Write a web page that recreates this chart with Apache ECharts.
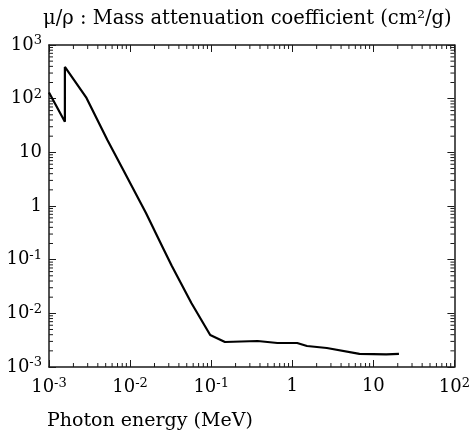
<!DOCTYPE html>
<html>
<head>
<meta charset="utf-8">
<script src="https://cdn.jsdelivr.net/npm/echarts@6/dist/echarts.min.js"></script>
<style>html,body{margin:0;padding:0;background:#fff}#c{width:473px;height:437px}</style>
</head>
<body>
<div id="c"></div>
<script>
// Photon energy (MeV)
const energy = [0.001, 0.00157, 0.00157, 0.0029, 0.00525, 0.008, 0.0157, 0.026, 0.0325, 0.057, 0.0973, 0.148, 0.374, 0.656, 1.15, 1.52, 2.67, 6.74, 14.4, 20.7];
// Mass attenuation coefficient (cm2/g)
const mu = [130, 37, 390, 103, 17, 5.1, 0.74, 0.155, 0.078, 0.0156, 0.00395, 0.00292, 0.00305, 0.0028, 0.0028, 0.00246, 0.00226, 0.00175, 0.00172, 0.00175];
// Tick labels
const xTickLabels = {'-3': '10{s|-3}', '-2': '10{s|-2}', '-1': '10{s|-1}', '0': '1', '1': '10', '2': '10{s|2}'};
const yTickLabels = {'-3': '10{s|-3}', '-2': '10{s|-2}', '-1': '10{s|-1}', '0': '1', '1': '10', '2': '10{s|2}', '3': '10{s|3}'};
const titleText = 'μ/ρ : Mass attenuation coefficient (cm²/g)';
const xName = 'Photon energy (MeV)';

const FONT = 'DejaVu Serif';
const xMin = 0.001, xMax = 100, yMin = 0.001, yMax = 1000;

function minorValues(lo, hi) {
  const out = [];
  for (let d = Math.round(Math.log10(lo)); d < Math.round(Math.log10(hi)); d++) {
    for (let m = 2; m <= 9; m++) out.push(m * Math.pow(10, d));
  }
  return out;
}
const xMinor = minorValues(xMin, xMax);
const yMinor = minorValues(yMin, yMax);

const rich = { s: { fontSize: 13, fontFamily: FONT, color: '#000', padding: [0, 0, 8, 0] } };
function fmt(map) {
  return function (v) { return map[String(Math.round(Math.log10(v)))] || ''; };
}
const lineCol = '#1a1a1a';
function tickSeries(vals, side) {
  return {
    type: 'custom', xAxisIndex: 0, yAxisIndex: 0, silent: true, clip: false, z: 5,
    data: vals.map(v => [v]),
    renderItem: function (params, api) {
      const v = api.value(0);
      let p, q;
      const L = 4;
      if (side === 'bottom') { p = api.coord([v, yMin]); q = [p[0], p[1] - L]; }
      else if (side === 'top') { p = api.coord([v, yMax]); q = [p[0], p[1] + L]; }
      else if (side === 'left') { p = api.coord([xMin, v]); q = [p[0] + L, p[1]]; }
      else { p = api.coord([xMax, v]); q = [p[0] - L, p[1]]; }
      return { type: 'line', shape: { x1: p[0], y1: p[1], x2: q[0], y2: q[1] }, style: { stroke: lineCol, lineWidth: 1 } };
    }
  };
}

const axisCommon = {
  type: 'log', logBase: 10,
  axisLine: { show: true, onZero: false, lineStyle: { color: lineCol, width: 1.5 } },
  axisTick: { show: true, inside: true, length: 7, lineStyle: { color: lineCol, width: 1 } },
  splitLine: { show: false },
  minorTick: { show: false },
  minorSplitLine: { show: false }
};

const chart = echarts.init(document.getElementById('c'));
chart.setOption({
  backgroundColor: '#fff',
  animation: false,
  title: [
    { text: titleText, left: 38, top: 4, textStyle: { fontFamily: FONT, fontSize: 19.5, fontWeight: 'normal', color: '#000' } },
    { text: xName, left: 42, top: 407, textStyle: { fontFamily: FONT, fontSize: 19, fontWeight: 'normal', color: '#000' } }
  ],
  grid: { left: 49, right: 14, top: 45, bottom: 70, containLabel: false },
  xAxis: [
    Object.assign({}, axisCommon, { position: 'bottom', min: xMin, max: xMax,
      axisLabel: { show: true, margin: 10, formatter: fmt(xTickLabels), rich: rich, fontFamily: FONT, fontSize: 18, color: '#000' } }),
    Object.assign({}, axisCommon, { position: 'top', min: xMin, max: xMax, axisLabel: { show: false } })
  ],
  yAxis: [
    Object.assign({}, axisCommon, { position: 'left', min: yMin, max: yMax,
      axisLabel: { show: true, margin: 7, formatter: fmt(yTickLabels), rich: rich, fontFamily: FONT, fontSize: 18, color: '#000' } }),
    Object.assign({}, axisCommon, { position: 'right', min: yMin, max: yMax, axisLabel: { show: false } })
  ],
  series: [
    {
      type: 'line', xAxisIndex: 0, yAxisIndex: 0, symbol: 'none', smooth: false,
      lineStyle: { color: '#000', width: 2.2 },
      data: energy.map((e, i) => [e, mu[i]])
    },
    tickSeries(xMinor, 'bottom'),
    tickSeries(xMinor, 'top'),
    tickSeries(yMinor, 'left'),
    tickSeries(yMinor, 'right')
  ]
});
</script>
</body>
</html>
